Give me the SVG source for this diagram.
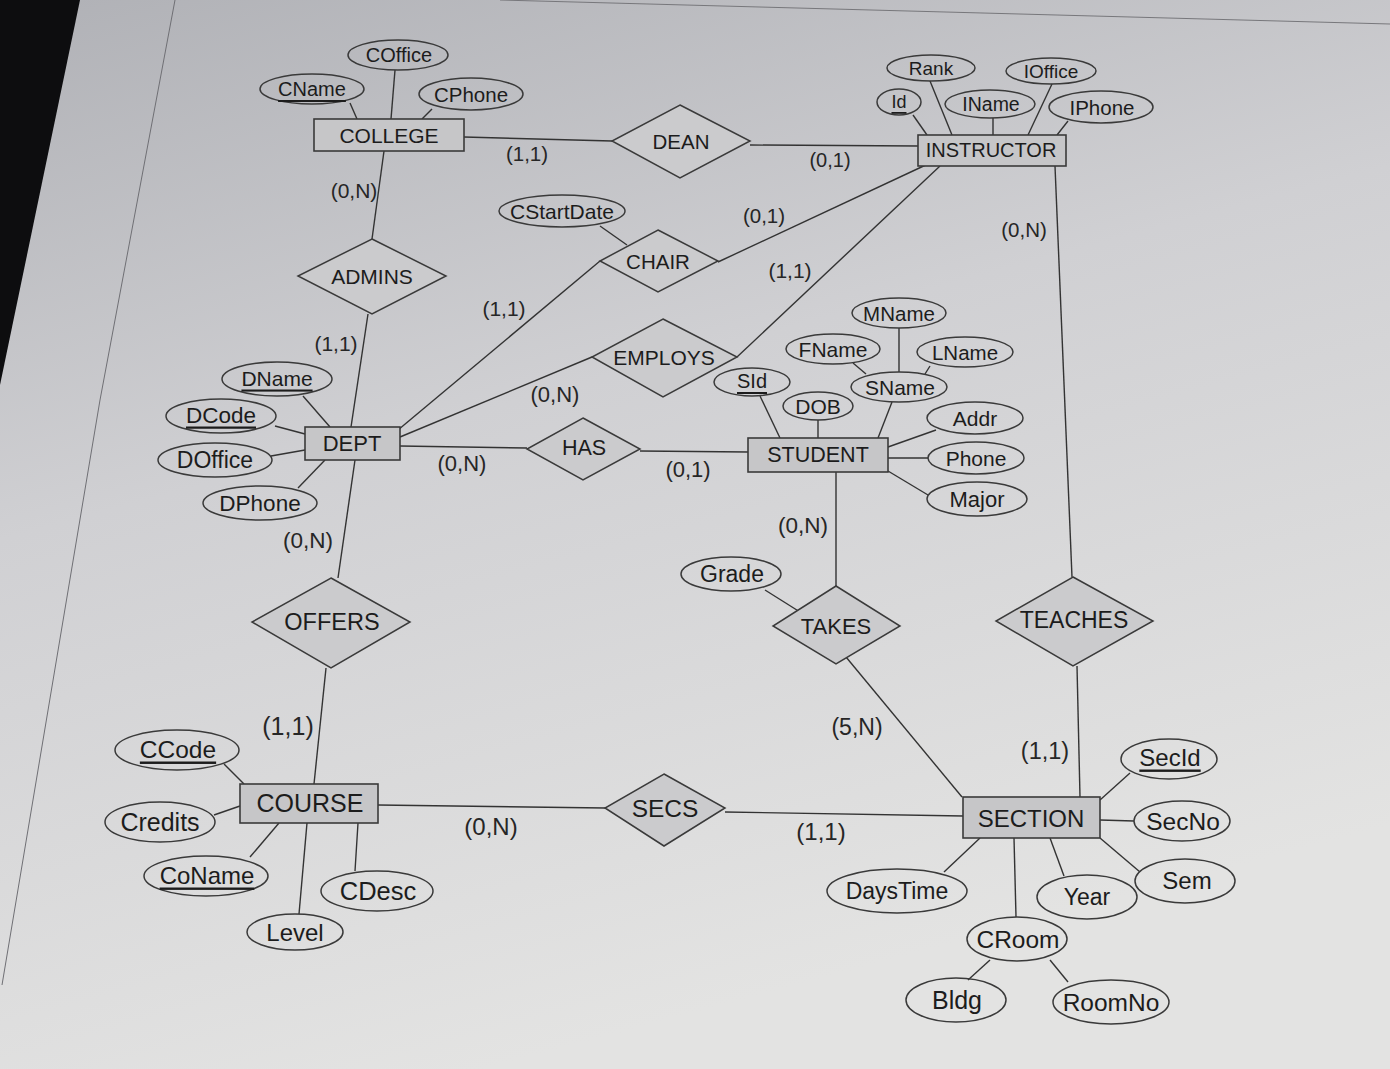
<svg xmlns="http://www.w3.org/2000/svg" width="1390" height="1069" viewBox="0 0 1390 1069">
<defs>
<linearGradient id="bg" x1="0" y1="0" x2="0.35" y2="1">
<stop offset="0" stop-color="#b0b1b6"/>
<stop offset="0.45" stop-color="#d0d0d3"/>
<stop offset="1" stop-color="#e3e3e2"/>
</linearGradient>
<style>
.ent rect{fill:#c6c6c8;stroke:#3a3a3a;stroke-width:1.6}
.rel polygon{fill:#cbcbcd;stroke:#3a3a3a;stroke-width:1.5}
.att ellipse{fill:none;stroke:#3a3a3a;stroke-width:1.5}
#connectors line,#connectors polyline{stroke:#333;stroke-width:1.4;fill:none}
text{font-family:"Liberation Sans",Arial,sans-serif;fill:#1c1c1c;text-anchor:middle;dominant-baseline:central}
.u{text-decoration:underline}
.lbl{fill:#262626}
</style>
</defs>
<rect width="1390" height="1069" fill="url(#bg)"/>
<polygon points="0,0 80,0 0,385" fill="#0d0d0f"/>
<polyline points="175,0 100,400 2,985" fill="none" stroke="#6f6f74" stroke-width="1"/>
<line x1="500" y1="0" x2="1390" y2="24" stroke="#77777b" stroke-width="1"/>

<g id="connectors">
<line x1="464" y1="137" x2="612" y2="141"/>
<line x1="750" y1="145" x2="918" y2="146"/>
<line x1="384" y1="151" x2="372" y2="239"/>
<line x1="368" y1="314" x2="351" y2="427"/>
<line x1="718" y1="262" x2="930" y2="163"/>
<line x1="600" y1="261" x2="398" y2="430"/>
<line x1="737" y1="357" x2="940" y2="166"/>
<line x1="592" y1="357" x2="400" y2="437"/>
<line x1="400" y1="446" x2="527" y2="448"/>
<line x1="640" y1="451" x2="748" y2="452"/>
<line x1="836" y1="472" x2="836" y2="586"/>
<line x1="846" y1="657" x2="962" y2="797"/>
<line x1="765" y1="590" x2="800" y2="612"/>
<line x1="1055" y1="166" x2="1072" y2="577"/>
<line x1="1077" y1="666" x2="1080" y2="797"/>
<line x1="355" y1="460" x2="338" y2="578"/>
<line x1="326" y1="668" x2="314" y2="784"/>
<line x1="378" y1="805" x2="605" y2="808"/>
<line x1="725" y1="812" x2="963" y2="816"/>
<line x1="395" y1="70" x2="391" y2="119"/>
<line x1="350" y1="103" x2="357" y2="119"/>
<line x1="432" y1="109" x2="422" y2="119"/>
<line x1="930" y1="81" x2="952" y2="135"/>
<line x1="913" y1="115" x2="927" y2="135"/>
<line x1="993" y1="118" x2="993" y2="135"/>
<line x1="1052" y1="84" x2="1028" y2="135"/>
<line x1="1068" y1="121" x2="1057" y2="135"/>
<line x1="600" y1="226" x2="627" y2="245"/>
<line x1="899" y1="328" x2="899" y2="372"/>
<line x1="853" y1="363" x2="866" y2="374"/>
<line x1="930" y1="366" x2="925" y2="374"/>
<line x1="892" y1="402" x2="878" y2="438"/>
<line x1="760" y1="396" x2="780" y2="438"/>
<line x1="818" y1="420" x2="818" y2="438"/>
<line x1="936" y1="430" x2="888" y2="447"/>
<line x1="928" y1="458" x2="888" y2="458"/>
<line x1="928" y1="495" x2="888" y2="471"/>
<line x1="303" y1="396" x2="330" y2="427"/>
<line x1="275" y1="426" x2="305" y2="434"/>
<line x1="271" y1="456" x2="305" y2="450"/>
<line x1="298" y1="488" x2="325" y2="460"/>
<line x1="224" y1="764" x2="244" y2="784"/>
<line x1="214" y1="815" x2="240" y2="806"/>
<line x1="250" y1="857" x2="279" y2="823"/>
<line x1="299" y1="914" x2="307" y2="823"/>
<line x1="355" y1="871" x2="358" y2="823"/>
<line x1="1130" y1="773" x2="1100" y2="800"/>
<line x1="1134" y1="821" x2="1100" y2="820"/>
<line x1="1140" y1="872" x2="1100" y2="838"/>
<line x1="944" y1="872" x2="980" y2="838"/>
<line x1="1064" y1="876" x2="1050" y2="838"/>
<line x1="1016" y1="917" x2="1014" y2="838"/>
<line x1="968" y1="980" x2="990" y2="960"/>
<line x1="1068" y1="982" x2="1050" y2="960"/>
</g>

<g id="COLLEGE" class="ent"><rect x="314" y="119" width="150" height="32"/><text x="389" y="135" font-size="21">COLLEGE</text></g>
<g id="INSTRUCTOR" class="ent"><rect x="918" y="135" width="148" height="31"/><text x="991" y="150" font-size="20">INSTRUCTOR</text></g>
<g id="DEPT" class="ent"><rect x="305" y="427" width="95" height="33"/><text x="352" y="443" font-size="22">DEPT</text></g>
<g id="STUDENT" class="ent"><rect x="748" y="438" width="140" height="34"/><text x="818" y="455" font-size="21.5">STUDENT</text></g>
<g id="COURSE" class="ent"><rect x="240" y="784" width="138" height="39"/><text x="310" y="803" font-size="25">COURSE</text></g>
<g id="SECTION" class="ent"><rect x="963" y="797" width="137" height="41"/><text x="1031" y="818" font-size="24">SECTION</text></g>

<g id="DEAN" class="rel"><polygon points="680,105 750,141 680,178 612,141"/><text x="681" y="141" font-size="20.5">DEAN</text></g>
<g id="ADMINS" class="rel"><polygon points="372,239 446,276 372,314 298,276"/><text x="372" y="276" font-size="21">ADMINS</text></g>
<g id="CHAIR" class="rel"><polygon points="658,230 718,261 658,292 600,261"/><text x="658" y="261" font-size="20.5">CHAIR</text></g>
<g id="EMPLOYS" class="rel"><polygon points="663,319 737,357 663,397 592,357"/><text x="664" y="357" font-size="21">EMPLOYS</text></g>
<g id="HAS" class="rel"><polygon points="583,418 640,449 583,480 527,449"/><text x="584" y="448" font-size="21.5">HAS</text></g>
<g id="OFFERS" class="rel"><polygon points="331,578 410,622 331,668 252,622"/><text x="332" y="622" font-size="23.5">OFFERS</text></g>
<g id="TAKES" class="rel"><polygon points="836,586 900,626 836,664 773,626"/><text x="836" y="626" font-size="22">TAKES</text></g>
<g id="TEACHES" class="rel"><polygon points="1073,577 1153,621 1073,666 996,621"/><text x="1074" y="620" font-size="23">TEACHES</text></g>
<g id="SECS" class="rel"><polygon points="664,774 725,808 664,846 605,808"/><text x="665" y="808" font-size="24.5">SECS</text></g>

<g id="COffice" class="att"><ellipse cx="398" cy="55" rx="50" ry="15"/><text x="399" y="55" font-size="20">COffice</text></g>
<g id="CName" class="att"><ellipse cx="312" cy="89" rx="52" ry="15"/><text x="312" y="89" font-size="20" class="u">CName</text></g>
<g id="CPhone" class="att"><ellipse cx="471" cy="94" rx="52" ry="16"/><text x="471" y="94" font-size="20.5">CPhone</text></g>
<g id="Rank" class="att"><ellipse cx="931" cy="68" rx="44" ry="13"/><text x="931" y="68" font-size="19">Rank</text></g>
<g id="IOffice" class="att"><ellipse cx="1051" cy="71" rx="45" ry="13"/><text x="1051" y="71" font-size="19">IOffice</text></g>
<g id="Id" class="att"><ellipse cx="899" cy="102" rx="22" ry="13"/><text x="899" y="102" font-size="18" class="u">Id</text></g>
<g id="IName" class="att"><ellipse cx="990" cy="104" rx="45" ry="14"/><text x="991" y="104" font-size="19.5">IName</text></g>
<g id="IPhone" class="att"><ellipse cx="1101" cy="107" rx="52" ry="16"/><text x="1102" y="107" font-size="20.5">IPhone</text></g>
<g id="CStartDate" class="att"><ellipse cx="562" cy="211" rx="63" ry="16"/><text x="562" y="211" font-size="21">CStartDate</text></g>
<g id="MName" class="att"><ellipse cx="899" cy="313" rx="47" ry="15"/><text x="899" y="313" font-size="20.5">MName</text></g>
<g id="FName" class="att"><ellipse cx="833" cy="349" rx="47" ry="15"/><text x="833" y="349" font-size="21">FName</text></g>
<g id="LName" class="att"><ellipse cx="965" cy="352" rx="48" ry="15"/><text x="965" y="352" font-size="20.5">LName</text></g>
<g id="SId" class="att"><ellipse cx="752" cy="382" rx="38" ry="14"/><text x="752" y="381" font-size="20" class="u">SId</text></g>
<g id="SName" class="att"><ellipse cx="899" cy="387" rx="48" ry="15"/><text x="900" y="387" font-size="21">SName</text></g>
<g id="DOB" class="att"><ellipse cx="818" cy="406" rx="35" ry="14"/><text x="818" y="406" font-size="21">DOB</text></g>
<g id="Addr" class="att"><ellipse cx="975" cy="418" rx="48" ry="16"/><text x="975" y="418" font-size="21">Addr</text></g>
<g id="Phone" class="att"><ellipse cx="976" cy="458" rx="48" ry="16"/><text x="976" y="458" font-size="21">Phone</text></g>
<g id="Major" class="att"><ellipse cx="977" cy="499" rx="50" ry="17"/><text x="977" y="499" font-size="22">Major</text></g>
<g id="DName" class="att"><ellipse cx="277" cy="379" rx="55" ry="17"/><text x="277" y="378" font-size="21" class="u">DName</text></g>
<g id="DCode" class="att"><ellipse cx="221" cy="416" rx="55" ry="17"/><text x="221" y="415" font-size="22.5" class="u">DCode</text></g>
<g id="DOffice" class="att"><ellipse cx="215" cy="460" rx="57" ry="17"/><text x="215" y="460" font-size="23">DOffice</text></g>
<g id="DPhone" class="att"><ellipse cx="260" cy="503" rx="57" ry="17"/><text x="260" y="503" font-size="22.5">DPhone</text></g>
<g id="Grade" class="att"><ellipse cx="731" cy="574" rx="50" ry="17"/><text x="732" y="574" font-size="23">Grade</text></g>
<g id="CCode" class="att"><ellipse cx="177" cy="750" rx="62" ry="20"/><text x="178" y="749" font-size="24.5" class="u">CCode</text></g>
<g id="Credits" class="att"><ellipse cx="160" cy="822" rx="55" ry="20"/><text x="160" y="822" font-size="25">Credits</text></g>
<g id="CoName" class="att"><ellipse cx="206" cy="876" rx="62" ry="20"/><text x="207" y="875" font-size="24" class="u">CoName</text></g>
<g id="CDesc" class="att"><ellipse cx="377" cy="891" rx="56" ry="20"/><text x="378" y="891" font-size="25.5">CDesc</text></g>
<g id="Level" class="att"><ellipse cx="295" cy="932" rx="48" ry="18"/><text x="295" y="932" font-size="24">Level</text></g>
<g id="SecId" class="att"><ellipse cx="1169" cy="759" rx="48" ry="20"/><text x="1170" y="757" font-size="24" class="u">SecId</text></g>
<g id="SecNo" class="att"><ellipse cx="1182" cy="821" rx="48" ry="20"/><text x="1183" y="821" font-size="24.5">SecNo</text></g>
<g id="Sem" class="att"><ellipse cx="1185" cy="881" rx="50" ry="22"/><text x="1187" y="880" font-size="24">Sem</text></g>
<g id="DaysTime" class="att"><ellipse cx="897" cy="891" rx="70" ry="22"/><text x="897" y="891" font-size="23">DaysTime</text></g>
<g id="Year" class="att"><ellipse cx="1087" cy="897" rx="50" ry="22"/><text x="1087" y="897" font-size="23">Year</text></g>
<g id="CRoom" class="att"><ellipse cx="1017" cy="939" rx="50" ry="22"/><text x="1018" y="939" font-size="24.5">CRoom</text></g>
<g id="Bldg" class="att"><ellipse cx="956" cy="1000" rx="50" ry="22"/><text x="957" y="1000" font-size="25">Bldg</text></g>
<g id="RoomNo" class="att"><ellipse cx="1111" cy="1002" rx="58" ry="22"/><text x="1111" y="1002" font-size="24.5">RoomNo</text></g>

<g id="labels">
<text class="lbl" x="527" y="153" font-size="20.5">(1,1)</text>
<text class="lbl" x="830" y="160" font-size="20">(0,1)</text>
<text class="lbl" x="354" y="190" font-size="21">(0,N)</text>
<text class="lbl" x="764" y="215" font-size="20.5">(0,1)</text>
<text class="lbl" x="1024" y="229" font-size="20.5">(0,N)</text>
<text class="lbl" x="790" y="270" font-size="21">(1,1)</text>
<text class="lbl" x="504" y="308" font-size="21">(1,1)</text>
<text class="lbl" x="336" y="343" font-size="21">(1,1)</text>
<text class="lbl" x="555" y="394" font-size="22">(0,N)</text>
<text class="lbl" x="462" y="463" font-size="22">(0,N)</text>
<text class="lbl" x="688" y="469" font-size="22">(0,1)</text>
<text class="lbl" x="308" y="540" font-size="22.5">(0,N)</text>
<text class="lbl" x="803" y="525" font-size="22.5">(0,N)</text>
<text class="lbl" x="288" y="726" font-size="25">(1,1)</text>
<text class="lbl" x="857" y="727" font-size="23">(5,N)</text>
<text class="lbl" x="1045" y="751" font-size="23.5">(1,1)</text>
<text class="lbl" x="491" y="826" font-size="24">(0,N)</text>
<text class="lbl" x="821" y="831" font-size="24">(1,1)</text>
</g>
</svg>
